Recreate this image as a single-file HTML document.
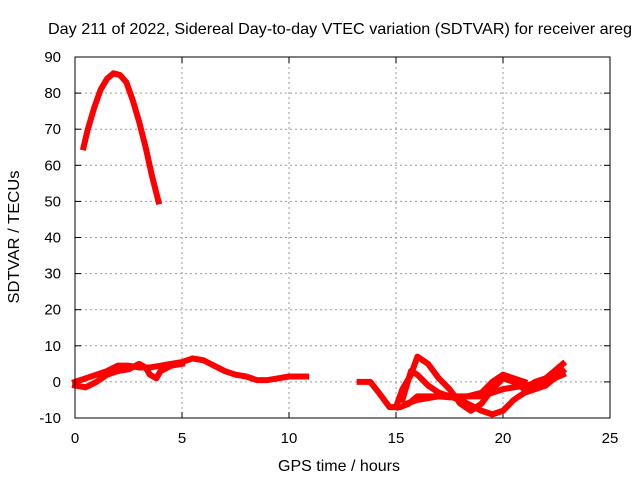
<!DOCTYPE html>
<html><head><meta charset="utf-8"><style>
body{margin:0;background:#fff;}
svg text{font-family:"Liberation Sans",sans-serif;font-size:15px;fill:#000;}
</style></head><body>
<svg id="chart" width="640" height="480">
<text x="340" y="34" text-anchor="middle" style="font-size:16px" textLength="584" lengthAdjust="spacingAndGlyphs">Day 211 of 2022, Sidereal Day-to-day VTEC variation (SDTVAR) for receiver areg</text>
<text x="339" y="471" text-anchor="middle" style="font-size:16px" textLength="122" lengthAdjust="spacingAndGlyphs">GPS time / hours</text>
<text transform="translate(19,237) rotate(-90)" text-anchor="middle" style="font-size:16px" textLength="133" lengthAdjust="spacingAndGlyphs">SDTVAR / TECUs</text>
<g id="grid"></g><g id="marks"></g>
<rect x="75" y="57" width="535" height="361" fill="none" stroke="#000" stroke-width="1"/>
</svg>
<script>
const xTicks=[0,5,10,15,20,25];
const yTicks=[-10,0,10,20,30,40,50,60,70,80,90];
const arcHours=[0.4,0.6,0.9,1.2,1.5,1.8,2.1,2.4,2.7,3.0,3.3,3.6,3.9];
const arcValues=[65,70,76,81,84,85.5,85,83,78,72,65,57,50];
const dayHours=[0,0.5,1,1.5,2,2.5,3,3.5,4,4.5,5,5.5,6,6.5,7,7.5,8,8.5,9,9.5,10,10.8];
const dayValues=[0,1,2,3,4.5,4.5,4,4,4.5,5,5.5,6.5,6,4.5,3,2,1.5,0.5,0.5,1,1.5,1.5];
const day2Hours=[0,0.5,1,1.5,2,2.5,3,3.3,3.5,3.8,4,4.5,5];
const day2Values=[-1,-1.5,0,2,3,3.5,5,4,2,1,3,4.5,5];
const eveAHours=[13.3,13.8,14.2,14.7,15.2,15.6,16,17,18,19,20,21,22,22.8];
const eveAValues=[0,0,-3,-7,-7,-6,-4,-4,-4,-4,-2,-1,0,2];
const eveBHours=[15,15.3,15.7,16,16.5,17,17.5,18,18.5,19,19.5,20,20.5,21,21.5,22,22.8];
const eveBValues=[-7,-2,2,7,5,1,-2,-6,-8,-6,-2,1,0,-2,0,1,5];
const eveCHours=[15.3,15.7,16,16.5,17,18,19,19.5,20,20.5,21,22,22.8];
const eveCValues=[-5,3,2,-1,-3,-5,-8,-9,-8,-5,-3,-1,3];
const eveDHours=[15.5,16,17,18,19,19.5,20,20.5,21];
const eveDValues=[-6,-5,-4,-4.5,-3,0,2,1,0];
const X=h=>75+h*535/25, Y=v=>418-(v+10)*361/100;
const NS="http://www.w3.org/2000/svg";
const grid=document.getElementById('grid'), marks=document.getElementById('marks'), svg=document.getElementById('chart');
function mk(t,a,p){const e=document.createElementNS(NS,t);for(const k in a)e.setAttribute(k,a[k]);p.appendChild(e);return e;}
xTicks.forEach(t=>{const x=X(t);
 if(t>0&&t<25){const g=mk('line',{x1:x,x2:x,y1:57,y2:418,stroke:'#999','stroke-dasharray':'2,3'},grid);
 
 }
 mk('line',{x1:x,x2:x,y1:418,y2:412,stroke:'#000'},grid);mk('line',{x1:x,x2:x,y1:57,y2:63,stroke:'#000'},grid);
 const l=mk('text',{x:x,y:443,'text-anchor':'middle'},svg);l.textContent=t;
 
 });
yTicks.forEach(t=>{const y=Y(t);
 if(t>-10&&t<90){const g=mk('line',{x1:75,x2:610,y1:y,y2:y,stroke:'#999','stroke-dasharray':'2,3'},grid);
 
 }
 mk('line',{x1:75,x2:81,y1:y,y2:y,stroke:'#000'},grid);mk('line',{x1:604,x2:610,y1:y,y2:y,stroke:'#000'},grid);
 const l=mk('text',{x:61,y:y+5,'text-anchor':'end'},svg);l.textContent=t;
 
 });
[[arcHours,arcValues,'arc'],[dayHours,dayValues,'day'],[day2Hours,day2Values,'day2'],[eveAHours,eveAValues,'eve-a'],[eveBHours,eveBValues,'eve-b'],[eveCHours,eveCValues,'eve-c'],[eveDHours,eveDValues,'eve-d']].forEach(([hs,vs,n])=>{
 const p=mk('polyline',{points:hs.map((h,i)=>X(h)+','+Y(vs[i])).join(' '),fill:'none',stroke:'#f00','stroke-width':6,'stroke-linejoin':'round','stroke-linecap':'square'},marks);
 
 });
</script>
</body></html>
